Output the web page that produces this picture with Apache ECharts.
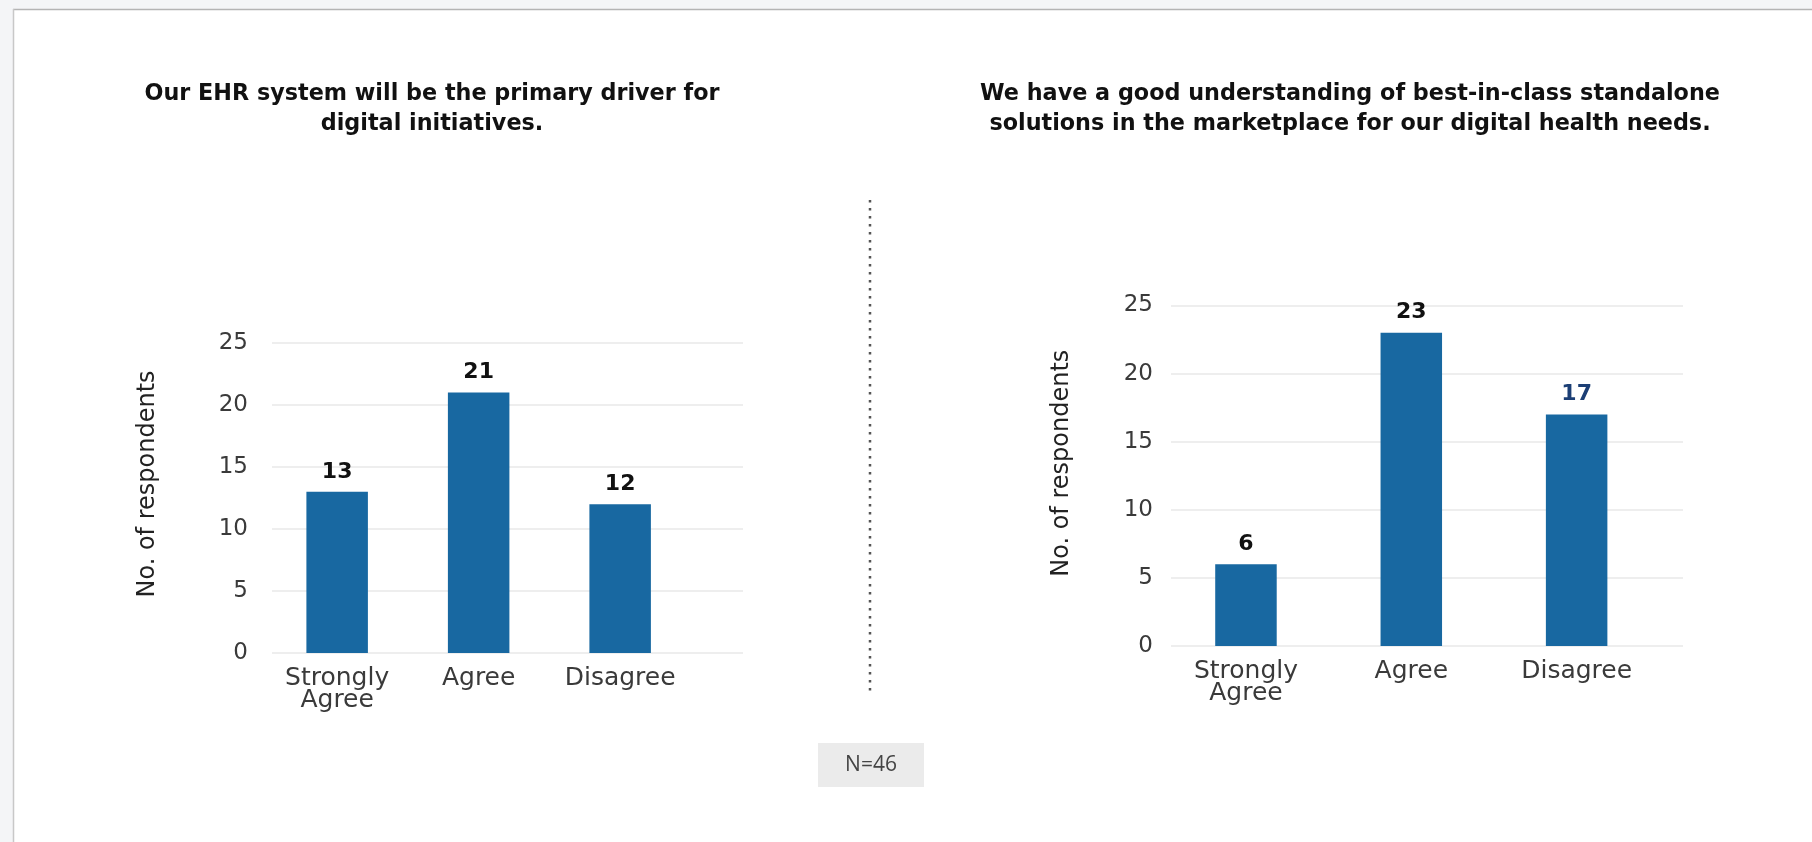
<!DOCTYPE html>
<html><head><meta charset="utf-8">
<script src="https://cdn.jsdelivr.net/npm/echarts@6/dist/echarts.min.js"></script>
<style>html,body{margin:0;padding:0;background:#fff}#c{width:1812px;height:842px}</style>
</head><body><div id="c"></div>
<script>
// ---- data ----
const categories = ['Strongly\nAgree', 'Agree', 'Disagree'];
const leftTitle = 'Our EHR system will be the primary driver for\ndigital initiatives.';
const rightTitle = 'We have a good understanding of best-in-class standalone\nsolutions in the marketplace for our digital health needs.';
const leftValues = [13, 21, 12];
const rightValues = [6, 23, 17];
const yMin = 0, yMax = 25, yInterval = 5;
const axisName = 'No. of respondents';
const sampleNote = 'N=46';

// ---- styles ----
const FONT = 'DejaVu Sans';
const BAR = '#1868a1';
const rightLabelColors = ['#111111', '#111111', '#1c3f75'];

const chart = echarts.init(document.getElementById('c'), null, {renderer: 'canvas'});

function yAxisVisible(grid, nameGap, margin, shift) {
  return {
    type: 'value', gridIndex: grid, min: yMin, max: yMax, interval: yInterval,
    name: axisName, nameLocation: 'middle', nameGap: nameGap, nameRotate: 90,
    nameTextStyle: {fontFamily: FONT, fontSize: 24, color: '#222', padding: [0, 0, 0, shift]},
    axisLine: {show: false}, axisTick: {show: false},
    axisLabel: {fontFamily: FONT, fontSize: 23, color: '#3a3a3a', margin: margin},
    splitLine: {lineStyle: {color: '#eeeeee', width: 2}}
  };
}
function yAxisHidden(grid) {
  return {type: 'value', gridIndex: grid, min: yMin, max: yMax, interval: yInterval, show: false, splitLine: {show: false}};
}
function xAxisHidden(grid) {
  return {type: 'category', gridIndex: grid, data: categories, show: false};
}
function xAxisVisible(grid, margin) {
  return {
    type: 'category', gridIndex: grid, data: categories,
    axisLine: {show: false}, axisTick: {show: false},
    axisLabel: {fontFamily: FONT, fontSize: 25, color: '#3a3a3a', margin: margin, lineHeight: 22, interval: 0}
  };
}
function labelCfg() {
  return {show: true, position: 'top', distance: 9, fontFamily: FONT, fontWeight: 'bold', fontSize: 22, color: '#111'};
}

const option = {
  backgroundColor: '#ffffff',
  animation: false,
  title: [
    {text: leftTitle, left: 427, top: 74, textAlign: 'center',
     textStyle: {fontFamily: FONT, fontWeight: 'bold', fontSize: 22.3, color: '#111', lineHeight: 30}},
    {text: rightTitle, left: 1345, top: 74, textAlign: 'center',
     textStyle: {fontFamily: FONT, fontWeight: 'bold', fontSize: 22.3, color: '#111', lineHeight: 30}}
  ],
  grid: [
    {left: 272, top: 343, width: 471, height: 310},
    {left: 266.4, top: 343, width: 424.5, height: 310},
    {left: 1171, top: 305.5, width: 512, height: 340.5},
    {left: 1163.3, top: 305.5, width: 496, height: 340.5}
  ],
  xAxis: [xAxisHidden(0), xAxisVisible(1, 14), xAxisHidden(2), xAxisVisible(3, 14)],
  yAxis: [yAxisVisible(0, 112, 24, 28), yAxisHidden(1), yAxisVisible(2, 97, 18, 25), yAxisHidden(3)],
  series: [
    {type: 'bar', xAxisIndex: 1, yAxisIndex: 1, barWidth: 61.5, itemStyle: {color: BAR},
     label: labelCfg(), data: leftValues},
    {type: 'bar', xAxisIndex: 3, yAxisIndex: 3, barWidth: 61.5, itemStyle: {color: BAR},
     label: labelCfg(),
     data: rightValues.map((v, i) => ({value: v, label: {color: rightLabelColors[i]}}))}
  ],
  graphic: [
    {type: 'rect', shape: {x: 0, y: 0, width: 1812, height: 9}, style: {fill: '#f4f5f7'}, silent: true},
    {type: 'rect', shape: {x: 0, y: 0, width: 13, height: 842}, style: {fill: '#f4f5f7'}, silent: true},
    {type: 'line', shape: {x1: 13, y1: 9.5, x2: 1812, y2: 9.5}, style: {stroke: '#b4b4b4', lineWidth: 1.5}, silent: true},
    {type: 'line', shape: {x1: 13.5, y1: 9, x2: 13.5, y2: 842}, style: {stroke: '#c8c8c8', lineWidth: 1.5}, silent: true},
    {type: 'line', shape: {x1: 870, y1: 200, x2: 870, y2: 691}, style: {stroke: '#555', lineWidth: 2.5, lineDash: [2.5, 5.5]}, silent: true},
    {type: 'rect', shape: {x: 818, y: 743, width: 106, height: 44}, style: {fill: '#ebebeb'}, silent: true},
    {type: 'text', x: 871, y: 765, style: {text: sampleNote, fontFamily: 'Open Sans', fontSize: 21, fill: '#444', align: 'center', verticalAlign: 'middle'}, silent: true}
  ]
};
chart.setOption(option);
</script></body></html>
